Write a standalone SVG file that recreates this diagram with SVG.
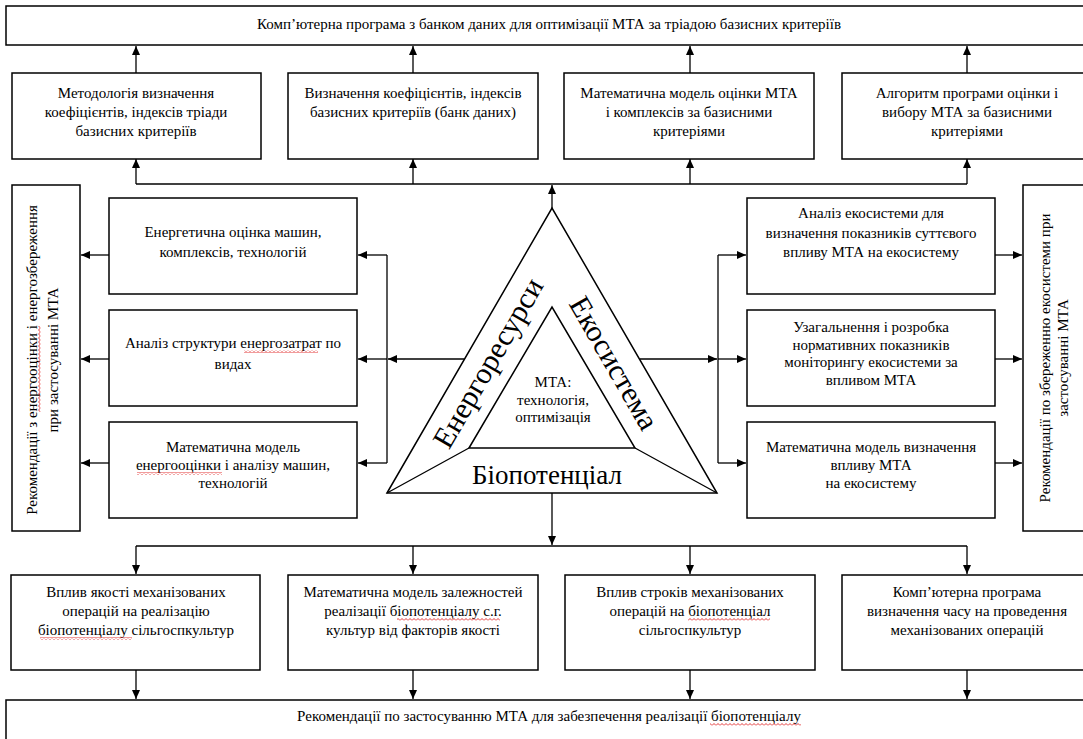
<svg xmlns="http://www.w3.org/2000/svg" width="1083" height="739" viewBox="0 0 1083 739">
<style>
.box{fill:#fff;stroke:#000;stroke-width:1.5}
.t{font-family:'Liberation Serif','DejaVu Serif',serif;font-size:15px;text-anchor:middle;fill:#000}
.big{font-family:'Liberation Serif','DejaVu Serif',serif;text-anchor:middle;fill:#000}
.c{stroke:#000;stroke-width:1.3;fill:none}
.a{stroke:#000;stroke-width:1.3;fill:none;marker-end:url(#ah)}
.tri{fill:#fff;stroke:#000;stroke-width:1.5;stroke-linejoin:miter}
.sq{fill:url(#wavy)}
</style>
<defs>
<marker id="ah" markerUnits="userSpaceOnUse" markerWidth="9" markerHeight="8" refX="9" refY="4" orient="auto">
<path d="M0,0 L9,4 L0,8 z" fill="#000"/>
</marker>
<pattern id="wavy" width="4" height="3" patternUnits="userSpaceOnUse">
<path d="M0,2.5 L2,0.5 L4,2.5" fill="none" stroke="#e02020" stroke-width="0.9"/>
</pattern>
</defs>
<rect width="1083" height="739" fill="#fff"/>

<g id="connectors">
<path class="a" d="M136,73 V46"/>
<path class="a" d="M413,73 V46"/>
<path class="a" d="M690,73 V46"/>
<path class="a" d="M967,73 V46"/>
<path class="c" d="M136,184 H967"/>
<path class="a" d="M136,184 V159"/>
<path class="a" d="M413,184 V159"/>
<path class="a" d="M690,184 V159"/>
<path class="a" d="M967,184 V159"/>
<path class="a" d="M552,307 V185"/>
<path class="a" d="M464,359 H388"/>
<path class="c" d="M387,255 V463"/>
<path class="a" d="M387,255 H358"/>
<path class="a" d="M387,359 H358"/>
<path class="a" d="M387,463 H358"/>
<path class="a" d="M109,255 H81"/>
<path class="a" d="M109,359 H81"/>
<path class="a" d="M109,463 H81"/>
<path class="a" d="M640,359 H717"/>
<path class="c" d="M718,255 V463"/>
<path class="a" d="M718,255 H746"/>
<path class="a" d="M718,359 H746"/>
<path class="a" d="M718,463 H746"/>
<path class="a" d="M995,255 H1022"/>
<path class="a" d="M995,359 H1022"/>
<path class="a" d="M995,463 H1022"/>
<path class="a" d="M552,493 V545"/>
<path class="c" d="M136,546 H967"/>
<path class="a" d="M136,546 V574"/>
<path class="a" d="M413,546 V574"/>
<path class="a" d="M690,546 V574"/>
<path class="a" d="M967,546 V574"/>
<path class="a" d="M136,670 V699"/>
<path class="a" d="M413,670 V699"/>
<path class="a" d="M690,670 V699"/>
<path class="a" d="M967,670 V699"/>
</g>

<g id="top">
<rect class="box" x="6" y="6" width="1090" height="39"/>
<text class="t" x="549" y="29">Комп’ютерна програма з банком даних для оптимізації МТА за тріадою базисних критеріїв</text>
</g>

<g id="r2-1">
<rect class="box" x="12" y="73" width="249" height="86"/>
<text class="t" x="136" y="98">Методологія визначення</text>
<text class="t" x="136" y="117">коефіцієнтів, індексів тріади</text>
<text class="t" x="136" y="136">базисних критеріїв</text>
</g>
<g id="r2-2">
<rect class="box" x="288" y="73" width="250" height="86"/>
<text class="t" x="413" y="98">Визначення коефіцієнтів, індексів</text>
<text class="t" x="413" y="117">базисних критеріїв (банк даних)</text>
</g>
<g id="r2-3">
<rect class="box" x="564" y="73" width="250" height="86"/>
<text class="t" x="689" y="98">Математична модель оцінки МТА</text>
<text class="t" x="689" y="117">і комплексів за базисними</text>
<text class="t" x="689" y="136">критеріями</text>
</g>
<g id="r2-4">
<rect class="box" x="842" y="73" width="250" height="86"/>
<text class="t" x="967" y="98">Алгоритм програми оцінки і</text>
<text class="t" x="967" y="117">вибору МТА за базисними</text>
<text class="t" x="967" y="136">критеріями</text>
</g>

<g id="left-rec">
<rect class="box" x="12" y="185" width="68" height="346"/>
<text class="t" transform="translate(37,360) rotate(-90)">Рекомендації з енергооцінки і енергозбереження</text>
<text class="t" transform="translate(58,360) rotate(-90)">при застосуванні МТА</text>
<rect class="sq" transform="translate(38,412) rotate(-90)" x="0" y="0" width="86" height="3"/>
</g>
<g id="right-rec">
<rect class="box" x="1023" y="185" width="70" height="346"/>
<text class="t" transform="translate(1050,358) rotate(-90)">Рекомендації по збереженню екосистеми при</text>
<text class="t" transform="translate(1068,358) rotate(-90)">застосуванні МТА</text>
</g>

<g id="l1">
<rect class="box" x="109" y="198" width="248" height="96"/>
<text class="t" x="233" y="237">Енергетична оцінка машин,</text>
<text class="t" x="233" y="257">комплексів, технологій</text>
</g>
<g id="l2">
<rect class="box" x="109" y="310" width="248" height="96"/>
<text class="t" x="233" y="348">Аналіз структури енергозатрат по</text>
<text class="t" x="233" y="369">видах</text>
<rect class="sq" x="244" y="350" width="74" height="3"/>
</g>
<g id="l3">
<rect class="box" x="109" y="422" width="248" height="96"/>
<text class="t" x="233" y="452">Математична модель</text>
<text class="t" x="233" y="470">енергооцінки і аналізу машин,</text>
<text class="t" x="233" y="488">технологій</text>
<rect class="sq" x="137" y="472" width="85" height="3"/>
</g>

<g id="rt1">
<rect class="box" x="747" y="198" width="248" height="96"/>
<text class="t" x="871" y="218">Аналіз екосистеми для</text>
<text class="t" x="871" y="238">визначення показників суттєвого</text>
<text class="t" x="871" y="257">впливу МТА на екосистему</text>
</g>
<g id="rt2">
<rect class="box" x="747" y="310" width="248" height="96"/>
<text class="t" x="871" y="332">Узагальнення і розробка</text>
<text class="t" x="871" y="350">нормативних показників</text>
<text class="t" x="871" y="367">моніторингу екосистеми за</text>
<text class="t" x="871" y="385">впливом МТА</text>
</g>
<g id="rt3">
<rect class="box" x="747" y="422" width="248" height="96"/>
<text class="t" x="871" y="452">Математична модель визначення</text>
<text class="t" x="871" y="470">впливу МТА</text>
<text class="t" x="871" y="488">на екосистему</text>
</g>

<g id="triangle">
<polygon class="tri" points="387,493 552,208 717,493"/>
<polygon class="tri" points="469,448 552,307 635,448"/>
<path class="c" d="M469,448 L387,493 M635,448 L717,493"/>
<text class="big" font-size="30" transform="translate(488,363) rotate(-60)" dy="10">Енергоресурси</text>
<text class="big" font-size="30" transform="translate(614,363) rotate(60)" dy="10">Екосистема</text>
<text class="big" font-size="27" x="547" y="484">Біопотенціал</text>
<text class="t" font-size="14" x="553" y="387">МТА:</text>
<text class="t" font-size="14" x="553" y="405">технологія,</text>
<text class="t" font-size="14" x="553" y="422">оптимізація</text>
</g>

<g id="b1">
<rect class="box" x="11" y="575" width="249" height="95"/>
<text class="t" x="136" y="597">Вплив якості механізованих</text>
<text class="t" x="136" y="616">операцій на реалізацію</text>
<text class="t" x="136" y="635">біопотенціалу сільгоспкультур</text>
<rect class="sq" x="40" y="637" width="92" height="3"/>
</g>
<g id="b2">
<rect class="box" x="288" y="575" width="250" height="95"/>
<text class="t" x="413" y="597">Математична модель залежностей</text>
<text class="t" x="413" y="616">реалізації біопотенціалу с.г.</text>
<text class="t" x="413" y="635">культур від факторів якості</text>
<rect class="sq" x="397" y="618" width="103" height="3"/>
</g>
<g id="b3">
<rect class="box" x="565" y="575" width="250" height="95"/>
<text class="t" x="690" y="597">Вплив строків механізованих</text>
<text class="t" x="690" y="616">операцій на біопотенціал</text>
<text class="t" x="690" y="635">сільгоспкультур</text>
<rect class="sq" x="688" y="618" width="82" height="3"/>
</g>
<g id="b4">
<rect class="box" x="842" y="575" width="250" height="95"/>
<text class="t" x="967" y="597">Комп’ютерна програма</text>
<text class="t" x="967" y="616">визначення часу на проведення</text>
<text class="t" x="967" y="635">механізованих операцій</text>
</g>

<g id="bottom">
<rect class="box" x="6" y="700" width="1090" height="50"/>
<text class="t" x="549" y="721">Рекомендації по застосуванню МТА для забезпечення реалізації біопотенціалу</text>
<rect class="sq" x="710" y="723" width="91" height="3"/>
</g>
</svg>
